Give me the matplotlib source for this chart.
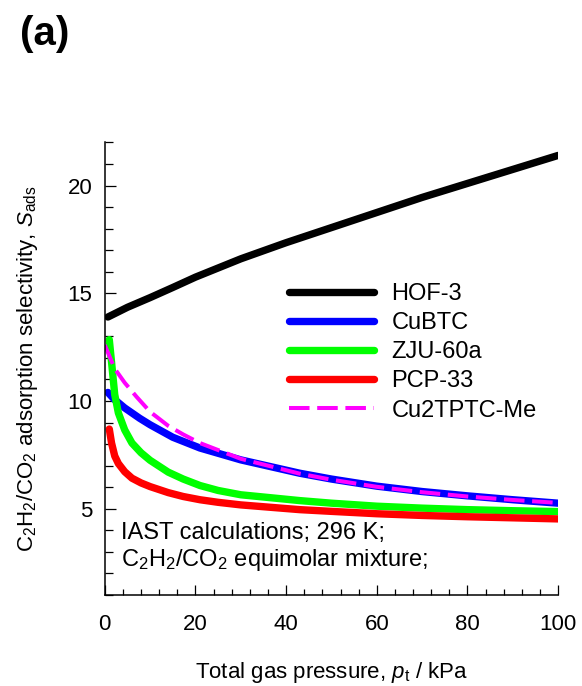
import matplotlib
matplotlib.use("Agg")
import matplotlib.pyplot as plt
from matplotlib.ticker import MultipleLocator

plt.rcParams['font.family'] = ['Liberation Sans', 'DejaVu Sans']
plt.rcParams['mathtext.fontset'] = 'custom'
plt.rcParams['mathtext.rm'] = 'Liberation Sans'
plt.rcParams['mathtext.it'] = 'Liberation Sans:italic'

# total pressure (kPa) and IAST selectivity
p_hof = [0.7, 5, 10, 15, 20, 30, 40, 50, 60, 70, 80, 90, 100]
s_hof = [13.9, 14.35, 14.8, 15.27, 15.75, 16.6, 17.35, 18.05, 18.75, 19.45, 20.1, 20.75, 21.4]

p_cubtc = [0.7, 2, 4.4, 7.7, 10, 15, 21, 30, 43, 50, 60, 70, 80, 90, 100]
s_cubtc = [10.4, 10.1, 9.68, 9.2, 8.9, 8.32, 7.82, 7.27, 6.65, 6.38, 6.05, 5.8, 5.6, 5.42, 5.26]

p_zju = [1.0, 1.5, 2.2, 3, 4.4, 6, 8, 10, 14, 17.3, 21, 25, 30, 43, 50, 60, 70, 80, 90, 100]
s_zju = [12.85, 11.8, 10.3, 9.45, 8.66, 8.05, 7.6, 7.25, 6.7, 6.38, 6.08, 5.85, 5.65, 5.38,
         5.26, 5.12, 5.03, 4.96, 4.91, 4.87]

p_pcp = [1.0, 1.5, 2.2, 3, 4.4, 6, 8, 10, 14, 17.3, 21, 25, 30, 43, 50, 60, 70, 80, 90, 100]
s_pcp = [8.7, 8.05, 7.45, 7.1, 6.72, 6.42, 6.2, 6.03, 5.75, 5.57, 5.42, 5.3, 5.18, 4.96,
         4.88, 4.77, 4.69, 4.63, 4.58, 4.53]

p_cu2 = [0, 1, 2.2, 4.4, 7, 10, 14, 17.3, 21, 30, 43, 50, 60, 70, 80, 90, 99.5]
s_cu2 = [12.6, 12.1, 11.5, 10.85, 10.2, 9.5, 8.85, 8.45, 8.05, 7.32, 6.63, 6.35, 6.02, 5.77,
         5.57, 5.41, 5.28]

fig = plt.figure(figsize=(5.82, 6.86), dpi=100)
ax = fig.add_axes([0.180, 0.1327, 0.779, 0.6596])

lw = 5.3
ax.plot(p_hof, s_hof, color='black', lw=lw, solid_capstyle='round', label='HOF-3')
ax.plot(p_cubtc, s_cubtc, color='#0000ff', lw=lw, solid_capstyle='round', label='CuBTC')
ax.plot(p_zju, s_zju, color='#00ff00', lw=lw, solid_capstyle='round', label='ZJU-60a')
ax.plot(p_pcp, s_pcp, color='#ff0000', lw=lw, solid_capstyle='round', label='PCP-33')
ax.plot(p_cu2, s_cu2, color='#ff00ff', lw=2.9, dashes=(5.1, 1.9), dash_capstyle='butt',
        label='Cu2TPTC-Me')

ax.set_xlim(0, 100)
ax.set_ylim(1, 22)
ax.xaxis.set_major_locator(MultipleLocator(20))
ax.xaxis.set_minor_locator(MultipleLocator(4))
ax.yaxis.set_major_locator(MultipleLocator(5))
ax.yaxis.set_minor_locator(MultipleLocator(1))
ax.tick_params(which='both', direction='in', width=0.9, labelsize=16)
ax.tick_params(axis='x', which='major', length=7, pad=14)
ax.tick_params(axis='x', which='minor', length=4.5)
ax.tick_params(axis='y', which='major', length=8, pad=9)
ax.tick_params(axis='y', which='minor', length=6)
ax.spines['top'].set_visible(False)
ax.spines['right'].set_visible(False)
ax.spines['left'].set_linewidth(1.1)
ax.spines['bottom'].set_linewidth(1.1)

ax.set_xlabel(r'Total gas pressure, $p_\mathrm{t}$ / kPa', fontsize=16, labelpad=18)
ax.set_ylabel(r'C$_2$H$_2$/CO$_2$ adsorption selectivity, $S_\mathrm{ads}$', fontsize=16,
              labelpad=20)

ax.legend(loc='upper left', bbox_to_anchor=(0.38, 0.715), frameon=False, fontsize=17,
          handlelength=3.6, handletextpad=0.75, labelspacing=0.3, borderpad=0)

ax.text(0.035, 0.162, 'IAST calculations; 296 K;\nC$_2$H$_2$/CO$_2$ equimolar mixture;',
        transform=ax.transAxes, fontsize=17, va='top', ha='left', linespacing=1.15)

fig.text(0.035, 1 - 34 / 686, '(a)', fontsize=29, fontweight='bold', va='center', ha='left')

fig.savefig('out.png', dpi=100)
